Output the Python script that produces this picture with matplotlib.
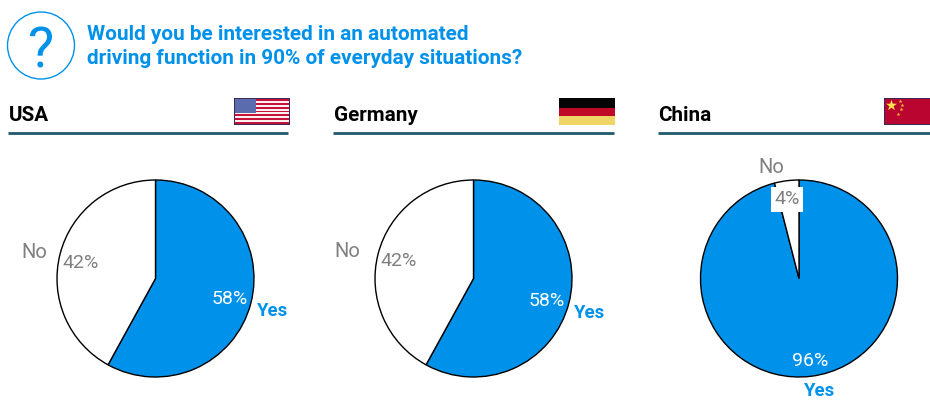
import matplotlib
matplotlib.use("Agg")
import matplotlib.pyplot as plt
from matplotlib.patches import Rectangle, Circle

W, H = 930, 401
BLUE = "#0091EA"
GREY = "#808080"
TEAL = "#1F5A6B"
FRAME = "#3B2B52"
FONT = "Roboto"

countries = ["USA", "Germany", "China"]
yes_share = [58, 58, 96]
no_share = [42, 42, 4]
title_lines = ["Would you be interested in an automated",
               "driving function in 90% of everyday situations?"]

centers = [(155.5, 278.5), (473.5, 278.5), (799, 278.5)]
radius = 98.5
header_x = [(8, 288), (333, 614), (658, 930)]
yes_pos = [(272.5, 311.5), (590, 312.5), (820, 391.5)]
no_pos = [(34, 252.5), (347, 251.5), (771, 167.5)]
yes_pct_pos = [(230, 299.5), (547, 300.5), (810, 361.5)]
no_pct_pos = [(81, 262.5), (399, 261.5), (787, 199.5)]

fig = plt.figure(figsize=(W / 100, H / 100), dpi=100, facecolor="white")
bg = fig.add_axes([0, 0, 1, 1])
bg.set_xlim(0, W)
bg.set_ylim(H, 0)
bg.axis("off")

# question badge and heading
bg.add_patch(Circle((41, 45.5), 33.5, fc="white", ec=BLUE, lw=1.0))
bg.text(41, 67, "?", color=BLUE, fontsize=40, ha="center", va="baseline",
        family=FONT)
for line, y in zip(title_lines, (40, 64.5)):
    bg.text(87, y, line, color=BLUE, fontsize=14.95, fontweight="bold",
            ha="left", va="baseline", family=FONT)

# country headers
for name, (x0, x1) in zip(countries, header_x):
    bg.text(x0 + 0.5, 121, name, color="black", fontsize=14.9, fontweight="bold",
            ha="left", va="baseline", family=FONT)
    bg.plot([x0, x1], [133, 133], color=TEAL, lw=2.0, solid_capstyle="butt")


def rect(x, y, w, h, c):
    bg.add_patch(Rectangle((x, y), w, h, fc=c, ec="none"))


# USA flag
rect(234, 98, 56, 27, FRAME)
for i in range(13):
    rect(235, 99 + i * 25 / 13, 54, 25 / 13, "#C4123A" if i % 2 == 0 else "#FBEFF0")
rect(235, 99, 21, 13.5, "#5A6CAE")

# Germany flag
rect(559, 98, 56, 9.5, "#050505")
rect(559, 107.5, 56, 8.5, "#BE0A26")
rect(559, 116, 56, 8.5, "#EFD566")

# China flag
rect(884, 98, 46, 27, FRAME)
rect(885, 99, 45, 25, "#B9052F")
bg.scatter([891], [104.5], marker="*", s=70, c="#FFE14A", linewidths=0, zorder=3)
bg.scatter([900, 902, 901, 897.5], [100.5, 104.5, 109, 113.5], marker="*", s=9,
           c="#F2B632", linewidths=0, zorder=3)

# one pie per country, clockwise from twelve o'clock
for (cx, cy), yes, no in zip(centers, yes_share, no_share):
    pad = radius + 1
    ax = fig.add_axes([(cx - pad) / W, 1 - (cy + pad) / H, 2 * pad / W, 2 * pad / H])
    ax.pie([yes, no], colors=[BLUE, "white"], startangle=90, counterclock=False,
           radius=radius, wedgeprops={"edgecolor": "black", "linewidth": 1.0})
    ax.set_xlim(-pad, pad)
    ax.set_ylim(-pad, pad)
    ax.patch.set_alpha(0)

top = fig.add_axes([0, 0, 1, 1])
top.set_xlim(0, W)
top.set_ylim(H, 0)
top.axis("off")
top.patch.set_alpha(0)

for i in range(3):
    top.text(*yes_pos[i], "Yes", color=BLUE, fontsize=13.3, fontweight="bold",
             ha="center", va="center", family=FONT)
    top.text(*no_pos[i], "No", color=GREY, fontsize=14.5,
             ha="center", va="center", family=FONT)
    top.text(*yes_pct_pos[i], f"{yes_share[i]}%", color="white", fontsize=14,
             ha="center", va="center", family=FONT)
    box = {"fc": "white", "ec": "none", "pad": 2.5} if i == 2 else None
    top.text(*no_pct_pos[i], f"{no_share[i]}%", color=GREY, fontsize=14,
             ha="center", va="center", family=FONT, bbox=box)

fig.savefig("out.png", dpi=100)
